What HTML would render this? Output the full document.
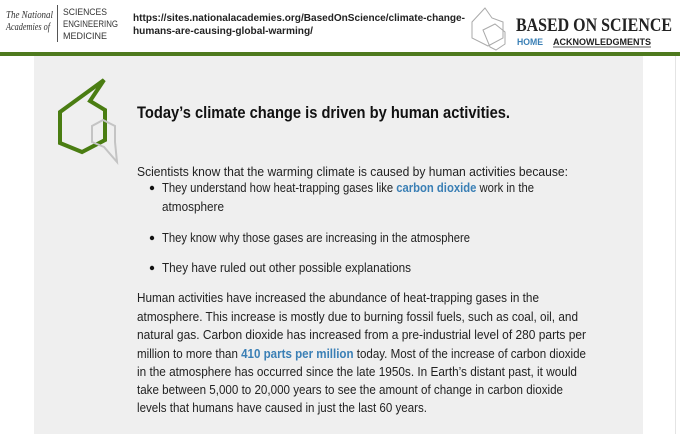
<!DOCTYPE html>
<html><head><meta charset="utf-8"><style>
html,body{margin:0;padding:0;background:#fff;width:680px;height:434px;overflow:hidden}
svg{display:block}
</style></head><body>
<svg width="680" height="434" viewBox="0 0 680 434">
<rect x="0" y="0" width="680" height="434" fill="#fff"/>
<g>
 <g font-family="Liberation Serif, serif" font-style="italic" font-size="10" fill="#333">
  <text x="6" y="18" textLength="47" lengthAdjust="spacingAndGlyphs">The National</text>
  <text x="6" y="30" textLength="44" lengthAdjust="spacingAndGlyphs">Academies of</text>
  <line x1="57.5" y1="5" x2="57.5" y2="42" stroke="#555" stroke-width="1"/>
  <g font-style="normal" font-family="Liberation Sans, sans-serif" font-size="9.5" fill="#333">
   <text x="63" y="15" textLength="44" lengthAdjust="spacingAndGlyphs">SCIENCES</text>
   <text x="63" y="27" textLength="55" lengthAdjust="spacingAndGlyphs">ENGINEERING</text>
   <text x="63" y="39" textLength="44" lengthAdjust="spacingAndGlyphs">MEDICINE</text>
  </g>
 </g>
 <g font-family="Liberation Sans, sans-serif" font-size="10.5" font-weight="bold" fill="#222">
  <text x="133" y="21" textLength="332" lengthAdjust="spacingAndGlyphs">https://sites.nationalacademies.org/BasedOnScience/climate-change-</text>
  <text x="133" y="34" textLength="180" lengthAdjust="spacingAndGlyphs">humans-are-causing-global-warming/</text>
 </g>
 <g fill="none" stroke="#aaa" stroke-width="1">
  <polygon points="485,8 472,22 472,38 488,46 503,38 503,22 492,18"/>
  <polygon points="483,30 495,24 505,32 505,44 496,50 490,47"/>
 </g>
 <text x="516" y="31" font-family="Liberation Serif, serif" font-weight="bold" font-size="19" fill="#222" textLength="156" lengthAdjust="spacingAndGlyphs">BASED ON SCIENCE</text>
 <text x="517" y="45" font-family="Liberation Sans, sans-serif" font-weight="bold" font-size="9" fill="#3a7fb5" textLength="26" lengthAdjust="spacingAndGlyphs">HOME</text>
 <text x="553" y="45" font-family="Liberation Sans, sans-serif" font-weight="bold" font-size="9" fill="#222" textLength="98" lengthAdjust="spacingAndGlyphs">ACKNOWLEDGMENTS</text>
 <line x1="553" y1="47" x2="651" y2="47" stroke="#222" stroke-width="0.8"/>
</g>
<rect x="0" y="52" width="680" height="4" fill="#4e7a1e"/>
<rect x="34" y="56" width="609" height="378" fill="#efefef"/>
<line x1="675.5" y1="56" x2="675.5" y2="434" stroke="#e4e4e4"/>
<g>
 <polygon points="104,80 90,101 105,110 105,140 82,152 60,143 60,112" fill="none" stroke="#4a7d12" stroke-width="4" stroke-linejoin="miter"/>
 <polygon points="103,120 115,126 115,142 117,162 104,147 92,142 92,126" fill="none" stroke="#c4c4c4" stroke-width="2"/>
</g>
<text x="137" y="118" font-family="Liberation Sans, sans-serif" font-weight="bold" font-size="17" fill="#111" textLength="373" lengthAdjust="spacingAndGlyphs">Today’s climate change is driven by human activities.</text>
<g font-family="Liberation Sans, sans-serif" font-size="12.5" fill="#222">
 <text x="137" y="176" textLength="431" lengthAdjust="spacingAndGlyphs">Scientists know that the warming climate is caused by human activities because:</text>
 <circle cx="152" cy="188" r="2.2" fill="#111"/>
 <text x="162" y="192" textLength="372" lengthAdjust="spacingAndGlyphs">They understand how heat-trapping gases like <tspan fill="#3a7fb5" font-weight="bold">carbon dioxide</tspan> work in the</text>
 <text x="162" y="211" textLength="62" lengthAdjust="spacingAndGlyphs">atmosphere</text>
 <circle cx="152" cy="238" r="2.2" fill="#111"/>
 <text x="162" y="242" textLength="308" lengthAdjust="spacingAndGlyphs">They know why those gases are increasing in the atmosphere</text>
 <circle cx="152" cy="268" r="2.2" fill="#111"/>
 <text x="162" y="272" textLength="249" lengthAdjust="spacingAndGlyphs">They have ruled out other possible explanations</text>
 <text x="137" y="302" textLength="402" lengthAdjust="spacingAndGlyphs">Human activities have increased the abundance of heat-trapping gases in the</text>
 <text x="137" y="321" textLength="441" lengthAdjust="spacingAndGlyphs">atmosphere. This increase is mostly due to burning fossil fuels, such as coal, oil, and</text>
 <text x="137" y="339" textLength="449" lengthAdjust="spacingAndGlyphs">natural gas. Carbon dioxide has increased from a pre-industrial level of 280 parts per</text>
 <text x="137" y="358" textLength="449" lengthAdjust="spacingAndGlyphs">million to more than <tspan fill="#3a7fb5" font-weight="bold">410 parts per million</tspan> today. Most of the increase of carbon dioxide</text>
 <text x="137" y="376" textLength="440" lengthAdjust="spacingAndGlyphs">in the atmosphere has occurred since the late 1950s. In Earth’s distant past, it would</text>
 <text x="137" y="394" textLength="426" lengthAdjust="spacingAndGlyphs">take between 5,000 to 20,000 years to see the amount of change in carbon dioxide</text>
 <text x="137" y="412" textLength="290" lengthAdjust="spacingAndGlyphs">levels that humans have caused in just the last 60 years.</text>
</g>
</svg>
</body></html>
